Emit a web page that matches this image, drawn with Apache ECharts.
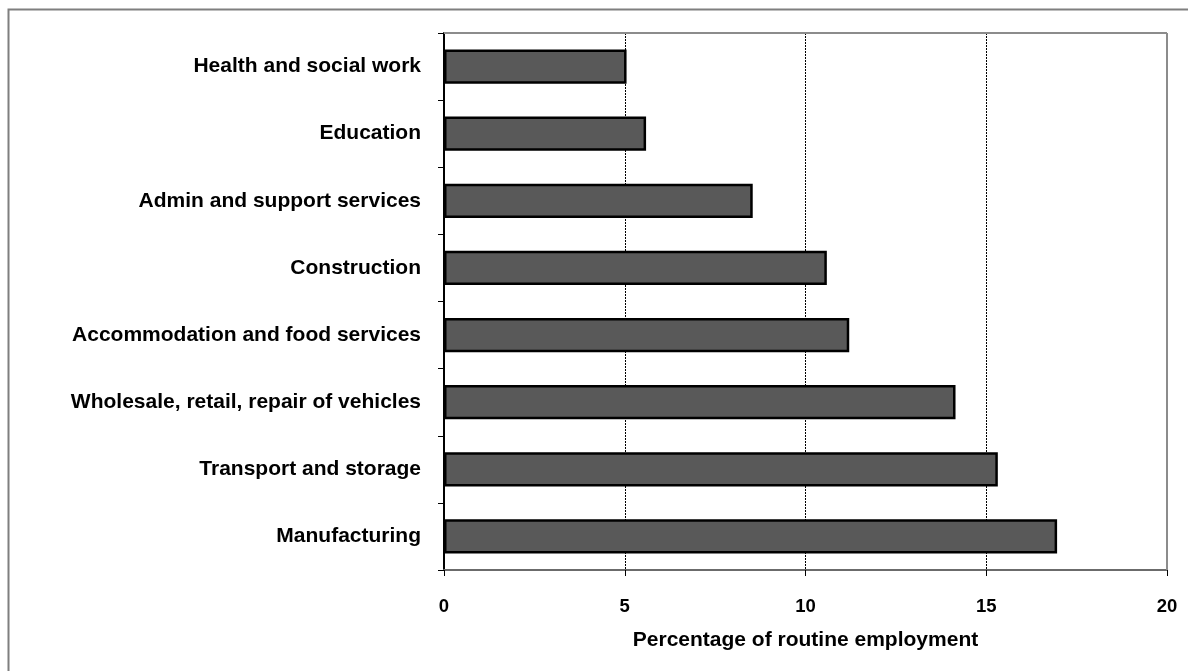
<!DOCTYPE html>
<html>
<head>
<meta charset="utf-8">
<script src="https://cdn.jsdelivr.net/npm/echarts@6/dist/echarts.min.js"></script>
<style>html,body{margin:0;padding:0;background:#fff;}#c{width:1188px;height:671px;}</style>
</head>
<body>
<div id="c"></div>
<script>
const categories = ['Manufacturing','Transport and storage','Wholesale, retail, repair of vehicles','Accommodation and food services','Construction','Admin and support services','Education','Health and social work'];
const values = [16.96, 15.32, 14.15, 11.21, 10.59, 8.54, 5.59, 5.05];
const xTicks = [0, 5, 10, 15, 20];

const chart = echarts.init(document.getElementById('c'));
const font = 'Liberation Sans, Arial, sans-serif';
chart.setOption({
  animation: false,
  backgroundColor: '#fff',
  graphic: [{
    type: 'rect', silent: true, z: -1,
    shape: {x: 8.5, y: 9.5, width: 1190, height: 700},
    style: {fill: 'none', stroke: '#7f7f7f', lineWidth: 2}
  }, {
    type: 'line', silent: true, z: 10,
    shape: {x1: 444, y1: 33, x2: 1167, y2: 33},
    style: {stroke: '#8c8c8c', lineWidth: 2}
  }, {
    type: 'line', silent: true, z: 10,
    shape: {x1: 1167, y1: 33, x2: 1167, y2: 570},
    style: {stroke: '#8c8c8c', lineWidth: 2}
  }],
  grid: {left: 444, right: 21, top: 33, bottom: 101, containLabel: false},
  xAxis: {
    type: 'value', min: xTicks[0], max: xTicks[xTicks.length-1], interval: 5,
    name: 'Percentage of routine employment', nameLocation: 'middle', nameGap: 60,
    nameTextStyle: {fontFamily: font, fontWeight: 'bold', fontSize: 21, color: '#000'},
    axisLine: {show: true, lineStyle: {color: '#6b6b6b', width: 2}},
    axisTick: {show: true, length: 6, lineStyle: {color: '#000', width: 1}},
    axisLabel: {fontFamily: font, fontWeight: 'bold', fontSize: 18.5, color: '#000', margin: 27},
    splitLine: {show: true, lineStyle: {color: '#000', type: [2, 1], width: 1}}
  },
  yAxis: {
    type: 'category', data: categories,
    axisLine: {show: true, lineStyle: {color: '#000', width: 2}},
    axisTick: {show: true, length: 6, alignWithLabel: false, lineStyle: {color: '#000', width: 1}},
    axisLabel: {fontFamily: font, fontWeight: 'bold', fontSize: 21, color: '#000', margin: 23},
    splitLine: {show: false}
  },
  series: [{
    type: 'bar', data: values, barCategoryGap: '49%',
    itemStyle: {color: '#595959', borderColor: '#000', borderWidth: 2.5}
  }]
});
</script>
</body>
</html>
